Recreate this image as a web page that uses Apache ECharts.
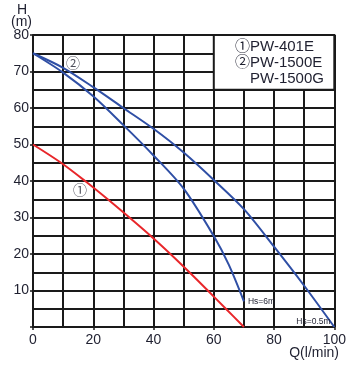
<!DOCTYPE html>
<html><head><meta charset="utf-8">
<script src="https://cdn.jsdelivr.net/npm/echarts@6/dist/echarts.min.js"></script>
<style>html,body{margin:0;padding:0;background:#fff}#c{width:349px;height:365px}</style>
</head><body><div id="c"></div>
<script>
const xLabelTicks = [0, 20, 40, 60, 80, 100];
const yLabelTicks = [10, 20, 30, 40, 50, 60, 70, 80];
const curvePW401E = [[0,50],[9.3,45],[17.3,40],[24.8,35],[32,30],[39,25],[45.6,20],[51.9,15],[58,10],[64,5],[70,0]];
const curveHs05 = [[0,75],[10,71],[20,65.7],[30,60],[40,54.3],[50,47.8],[60,40.3],[70,32.3],[80,22],[90,11.3],[100,0]];
const curveHs6 = [[0,75],[10,69.7],[20,63.2],[30,55.3],[40,47],[50,37.9],[60,24.9],[65,17],[70,7]];
const circleMarks = [{value:[15.6,37.5], text:'①'}, {value:[13.3,72.5], text:'②'}];
const endLabels = ['Hs=6m', 'Hs=0.5m'];
const legendLines = ['①PW-401E', '②PW-1500E', '\u3000PW-1500G'];
const legendBox = [[60,80],[100,65]];

const FONT = "'Liberation Sans', 'Noto Sans CJK SC', sans-serif";
const TXT = '#1f2030';
const chart = echarts.init(document.getElementById('c'));
const grid = {left:33, right:12, top:35, bottom:38};
chart.setOption({
  animation:false,
  grid: grid,
  xAxis: [
    {type:'value', min:0, max:100, interval:20,
     axisLine:{show:true, onZero:false, lineStyle:{color:'#1a1a1a', width:2}},
     axisTick:{show:true, length:3, lineStyle:{color:'#1a1a1a', width:1.5}},
     axisLabel:{margin:6, fontSize:14, fontFamily:FONT, color:TXT,
       formatter: v => xLabelTicks.includes(v) ? String(v) : ''},
     splitLine:{show:false}},
    {type:'value', min:0, max:100, interval:10, position:'bottom',
     axisLine:{show:false}, axisTick:{show:false}, axisLabel:{show:false},
     splitLine:{show:true, lineStyle:{color:'#1a1a1a', width:2}}}
  ],
  yAxis: [
    {type:'value', min:0, max:80, interval:10,
     axisLine:{show:true, onZero:false, lineStyle:{color:'#1a1a1a', width:2}},
     axisTick:{show:true, length:3, lineStyle:{color:'#1a1a1a', width:1.5}},
     axisLabel:{margin:4, fontSize:14, fontFamily:FONT, color:TXT,
       formatter: v => yLabelTicks.includes(v) ? String(v) : ''},
     splitLine:{show:false}},
    {type:'value', min:0, max:80, interval:5, position:'left',
     axisLine:{show:false}, axisTick:{show:false}, axisLabel:{show:false},
     splitLine:{show:true, lineStyle:{color:'#1a1a1a', width:2}}}
  ],
  series: [
    {type:'line', name:'PW-401E', data:curvePW401E, smooth:0.3, symbol:'none',
     lineStyle:{color:'#e8262a', width:2}, z:3,
     markArea:{silent:true, itemStyle:{color:'#fff', borderColor:'#1a1a1a', borderWidth:2},
       data:[[{coord:legendBox[0]},{coord:legendBox[1]}]]}},
    {type:'line', name:'Hs=0.5m', data:curveHs05, smooth:0.3, symbol:'none',
     lineStyle:{color:'#2f4fa5', width:2}, z:3,
     endLabel:{show:true, formatter:endLabels[1], fontSize:8.5, fontFamily:FONT, color:TXT,
       offset:[-46,-5]}},
    {type:'line', name:'Hs=6m', data:curveHs6, smooth:0.3, symbol:'none',
     lineStyle:{color:'#2f4fa5', width:2}, z:3,
     endLabel:{show:true, formatter:endLabels[0], fontSize:8.5, fontFamily:FONT, color:TXT,
       offset:[-4,0]}},
    {type:'scatter', data:circleMarks.map(d=>({value:d.value, name:d.text})), symbolSize:0, z:4,
     label:{show:true, position:'inside', formatter:p=>p.name, fontSize:14,
       fontFamily:"'Noto Sans CJK SC', sans-serif", color:TXT}}
  ],
  graphic: [
    {type:'text', left:17, top:3, style:{text:'H', font:'14px '+FONT, fill:TXT}},
    {type:'text', left:11, top:15, style:{text:'(m)', font:'14px '+FONT, fill:TXT}},
    {type:'text', right:10, top:346, style:{text:'Q(l/min)', font:'14px '+FONT, fill:TXT}},
    {type:'text', left:235, top:39, z:10, style:{text:legendLines[0], font:'15px '+FONT, fill:TXT}},
    {type:'text', left:235, top:55, z:10, style:{text:legendLines[1], font:'15px '+FONT, fill:TXT}},
    {type:'text', left:235, top:71, z:10, style:{text:legendLines[2], font:'15px '+FONT, fill:TXT}}
  ]
});
</script></body></html>
